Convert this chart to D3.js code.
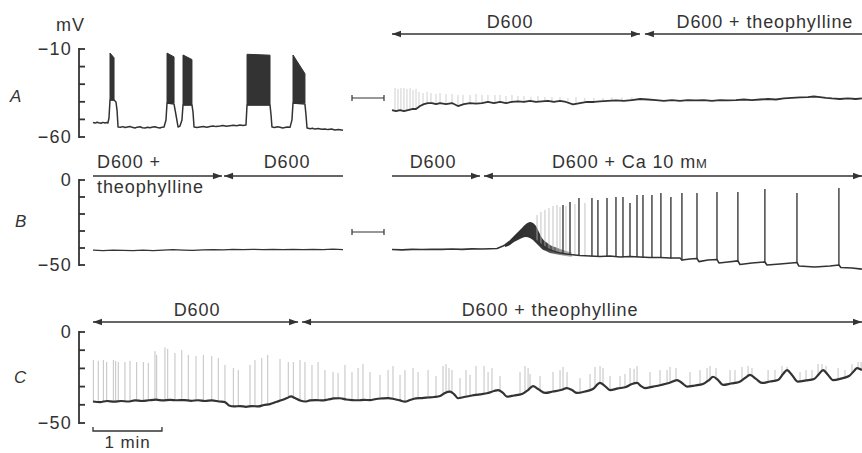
<!DOCTYPE html>
<html><head><meta charset="utf-8">
<script src="https://cdn.jsdelivr.net/npm/d3@7"></script>
<style>
body{margin:0;background:#fff}
text{font-family:"Liberation Sans",Arial,sans-serif;fill:#333}
</style>
</head><body>
<svg id="c" width="862" height="453"></svg>
<script>
// ---------------- DATA (time in s, potential in mV) ----------------
const aTicks = [-60,-50,-40,-30,-20,-10];
const bTicks = [-50,-40,-30,-20,-10,0];
const cTicks = [-50,-40,-30,-20,-10,0];
const aTickLabels = [[-10,"\u221210"],[-60,"\u221260"]];
const bTickLabels = [[0,"0"],[-50,"\u221250"]];
const cTickLabels = [[0,"0"],[-50,"\u221250"]];

// Panel A, left record
const aLeftTrace = [[0,-51.8],[2,-52.1],[3.5,-51.6],[5,-51.9],[7,-52.2],[8.7,-51.7],[10.4,-52.0],[12,-51.8],[13,-52.0],[13.9,-49.2],[14.8,-39.0],[18.3,-39.0],[20,-40.1],[20.9,-44.7],[21.8,-54.3],[24,-54.5],[26,-54.1],[27.8,-54.6],[30,-54.3],[32.2,-54.0],[34,-54.5],[36.5,-54.9],[38.5,-54.4],[40.9,-54.2],[43,-54.7],[45.2,-54.9],[47.5,-54.5],[49.6,-54.7],[52,-54.3],[53.9,-54.2],[56,-54.6],[58.3,-54.9],[60,-54.4],[61.8,-54.3],[63.5,-50.3],[64.4,-40.7],[70.5,-41.3],[72.2,-47.5],[74,-54.3],[75.7,-53.8],[77.4,-50.3],[78.3,-41.8],[86.1,-41.8],[87,-45.8],[87.9,-54.3],[90.5,-54.6],[93.1,-54.3],[96,-54.0],[99,-54.4],[101.8,-54.0],[104.5,-53.7],[107,-54.1],[110.5,-53.8],[113,-53.5],[116,-53.9],[119.2,-53.6],[122,-53.3],[125,-53.6],[127.9,-53.2],[130.5,-53.4],[133.1,-53.2],[134,-41.8],[154,-41.8],[154.9,-47.5],[155.7,-54.3],[158,-54.6],[160.5,-54.2],[162.7,-54.5],[165,-54.9],[167,-54.6],[169,-54.3],[171.4,-54.5],[173.1,-50.3],[174,-40.7],[184.4,-41.3],[185.3,-47.5],[186.2,-54.9],[189,-55.3],[191,-55.0],[193.1,-55.5],[196,-55.2],[199,-55.6],[201.8,-55.4],[204.5,-55.8],[207.5,-55.5],[210.5,-56.0],[213.5,-55.7],[217.5,-56.1]];
const burstStart    = [14.8, 64.4, 78.3, 134, 174];
const burstEnd      = [18.3, 70.5, 86.1, 154, 184.4];
const burstFloor    = [-39.0, -40.7, -41.8, -41.8, -40.7];
const burstTopStart = [-12.3, -12.3, -13.4, -13.0, -13.4];
const burstTopEnd   = [-15.0, -14.5, -16.0, -13.5, -24.0];

// Panel A, right record
const aRightTrace = [[0,-44.7],[3.5,-45.3],[7,-44.7],[10.4,-45.3],[13.9,-44.7],[17.4,-44.1],[20.9,-44.1],[24.4,-42.4],[27.8,-41.3],[31.3,-40.7],[34.8,-40.7],[38.3,-41.3],[41.8,-40.7],[47,-41.3],[52.2,-40.7],[57.4,-42.4],[62.6,-41.3],[67.9,-40.7],[73.1,-41.0],[78.3,-40.7],[83.5,-40.1],[88.7,-40.7],[94,-40.1],[99.2,-40.7],[104.4,-40.1],[109.6,-39.8],[114.8,-40.1],[120,-39.5],[125.3,-40.1],[130.5,-39.8],[135.7,-39.5],[140.9,-40.1],[146.2,-39.5],[151.4,-40.1],[157.5,-41.5],[163.6,-40.7],[169.7,-40.1],[175.7,-40.1],[181,-39.8],[187.9,-39.5],[194.9,-39.2],[201.8,-39.5],[208.8,-39.0],[215.8,-38.4],[222.7,-38.7],[229.7,-39.0],[236.6,-39.5],[243.6,-39.0],[250.6,-39.5],[257.5,-39.0],[264.5,-39.2],[271.4,-39.0],[278.4,-39.5],[285.4,-39.0],[292.3,-39.2],[299.3,-39.0],[306.2,-38.7],[313.2,-39.0],[320.2,-38.7],[327.1,-38.4],[334.1,-38.7],[341,-38.1],[348,-37.8],[355,-37.5],[361.9,-37.3],[367.1,-37.0],[372.4,-37.3],[377.6,-37.8],[382.8,-38.1],[389.8,-38.4],[396.7,-38.1],[403.7,-38.4],[408.9,-38.1]];
const aRightSpikes = [[2.6,-32.2],[5.2,-32.7],[7.8,-32.2],[10.4,-32.2],[13,-32.7],[15.7,-32.2],[18.3,-33.3],[20.9,-32.7],[23.5,-34.4],[27,-35.0],[30.5,-34.4],[33.9,-35.0],[38.3,-35.6],[41.8,-35.0],[47,-35.6],[52.2,-35.6],[57.4,-36.1],[61.8,-36.1],[67.9,-36.1],[73.1,-35.6],[78.3,-36.1],[83.5,-36.1],[89.6,-36.1],[94,-36.1],[99.2,-36.7],[104.4,-36.1],[109.6,-36.7],[114.8,-36.7],[120.9,-37.3],[127,-36.7],[133.1,-37.3],[139.2,-37.3],[146.2,-37.3],[153.1,-37.8],[160.1,-37.3],[167.9,-37.8],[175.7,-37.8],[183.6,-37.8],[191.4,-37.5],[200.1,-37.5],[208.8,-37.3]];

// Panel B, left record
const bLeftTrace = [[0,-41.2],[8.7,-41.5],[17.4,-41.2],[26.1,-41.4],[34.8,-41.6],[43.5,-41.3],[52.2,-41.5],[60.9,-41.2],[69.6,-40.9],[78.3,-41.2],[87,-41.4],[95.7,-41.1],[104.4,-40.9],[113.1,-41.1],[121.8,-40.8],[130.5,-41.0],[139.2,-40.8],[147.9,-40.9],[156.6,-40.8],[165.3,-41.0],[174,-40.8],[182.7,-40.9],[191.4,-40.8],[200.1,-40.9],[208.8,-40.7],[217.5,-40.9]];

// Panel B, right record
const bRightTrace = [[0,-40.9],[8.7,-41.1],[17.4,-40.8],[26.1,-40.9],[34.8,-40.7],[43.5,-40.8],[52.2,-40.6],[60.9,-40.8],[69.6,-40.5],[78.3,-40.6],[85.3,-40.4],[91.4,-40.3],[96.6,-38.8],[100.9,-37.4],[104.4,-35.9],[109.6,-34.1],[114.0,-32.9],[118.3,-32.9],[122.7,-34.1],[127,-36.5],[131.4,-38.8],[135.7,-40.6],[140.1,-41.8],[144.4,-42.6],[148.8,-43.2],[154.9,-43.8],[163.6,-44.4],[172.3,-44.7],[181,-45.0],[189.7,-44.7],[198.4,-45.3],[207.1,-45.0],[215.8,-45.3],[224.5,-45.6],[233.2,-45.6],[241.9,-45.9],[250.6,-45.9],[252.3,-47.1],[259.3,-46.5],[265.4,-46.2],[267.1,-48.0],[274.9,-47.1],[282.8,-46.8],[284.5,-48.8],[292.3,-48.2],[301,-47.6],[302.8,-49.7],[313.2,-48.8],[324.5,-48.2],[326.3,-50.0],[337.6,-49.4],[352.4,-48.5],[354.1,-50.6],[368,-51.2],[381.1,-50.6],[388.9,-50.0],[390.6,-51.5],[400.2,-51.8],[408.9,-52.4]];
// dense oscillation envelope: [t, lower mV, upper mV]
const bOscillation = [[98.3,-39.4,-37.6],[102.7,-38.2,-35.3],[106.1,-36.5,-32.9],[109.6,-35.3,-30.6],[113.1,-34.1,-28.2],[116.6,-33.5,-25.9],[120.1,-34.1,-24.7],[122.7,-35.3,-25.3],[125.3,-37.1,-27.1],[127.9,-38.8,-30.6],[130.5,-40.6,-34.1],[134,-41.8,-36.5],[137.5,-42.9,-38.2],[141.8,-43.5,-39.4],[146.2,-44.1,-40.6],[151.4,-44.7,-41.8],[156.6,-45.3,-42.6]];
const bRightFaintSpikes = [[126.2,-20.6],[129.6,-18.8],[133.1,-17.6],[136.6,-16.5],[140.1,-15.3],[143.6,-14.7],[146.2,-15.9],[151.4,-15.3],[159.2,-14.1],[167.9,-13.5]];
const bRightSpikes = [[148.8,-14.7],[154.9,-12.9],[162.7,-10.6],[174,-10.6],[179.2,-11.8],[187.1,-10.6],[194.9,-10.0],[201,-10.0],[207.1,-13.5],[213.2,-8.8],[218.4,-8.8],[226.2,-8.8],[234,-7.6],[242.7,-10.0],[252.3,-7.6],[265.4,-7.6],[282.8,-7.1],[301,-7.1],[324.5,-5.3],[352.4,-7.6],[388.9,-4.7]];

// Panel C
const cTrace = [[0,-38.2],[6.1,-38.5],[12.2,-37.9],[18.3,-38.3],[24.4,-37.9],[30.5,-38.2],[36.5,-37.6],[42.6,-37.9],[48.7,-37.5],[54.8,-37.2],[60.9,-37.6],[67,-37.3],[73.1,-37.5],[79.2,-37.4],[85.3,-37.8],[91.4,-37.5],[97.4,-37.9],[103.5,-37.6],[109.6,-38.2],[114.8,-38.5],[118.3,-40.4],[122.7,-40.9],[127.9,-40.7],[133.1,-41.1],[138.3,-40.7],[143.6,-40.9],[148.8,-40.1],[154,-39.6],[159.2,-38.5],[164.4,-37.4],[168.8,-36.3],[172.3,-35.4],[175.7,-36.3],[180.1,-37.6],[184.4,-38.2],[188.8,-37.6],[194,-37.4],[199.2,-37.6],[204.5,-37.1],[209.7,-36.5],[214.9,-36.4],[220.1,-37.1],[225.3,-37.4],[230.6,-37.5],[235.8,-37.3],[241,-37.4],[246.2,-36.8],[251.4,-36.5],[256.7,-36.3],[261.9,-36.8],[267.1,-37.6],[271.4,-38.3],[275.8,-37.4],[281,-36.5],[286.2,-36.3],[291.5,-36.0],[296.7,-35.7],[301.9,-35.2],[306.2,-33.5],[310.6,-32.8],[314,-34.1],[317.6,-36.4],[322.8,-35.7],[329.7,-34.9],[336.7,-34.3],[343.7,-33.5],[348.9,-32.4],[352.4,-31.9],[356.7,-33.5],[360.2,-35.5],[366.3,-34.9],[373.2,-34.1],[378.5,-31.9],[382.8,-29.7],[387.2,-31.3],[393.3,-33.5],[400.2,-32.7],[407.1,-31.9],[412.3,-30.8],[416.7,-31.9],[421,-33.5],[428,-32.7],[434.9,-31.3],[441,-28.0],[445.4,-29.7],[449.8,-31.9],[456.7,-31.0],[463.7,-30.2],[468.9,-28.6],[473.3,-28.0],[476.8,-29.7],[480.2,-30.8],[487.2,-30.0],[494.2,-29.1],[501.1,-28.0],[508.1,-26.4],[512.4,-28.0],[516.8,-30.0],[523.7,-29.4],[530.7,-28.6],[535.9,-26.4],[539.4,-24.6],[543.8,-26.4],[548.1,-29.1],[555.1,-28.3],[562.1,-27.5],[567.2,-25.3],[571.6,-23.6],[576.8,-25.8],[582,-28.0],[589,-27.2],[595.9,-26.4],[600.3,-23.1],[603.8,-20.9],[608.1,-23.6],[613.3,-27.3],[620.3,-26.6],[627.3,-25.8],[631.6,-23.1],[635.1,-20.9],[639.5,-23.6],[643.8,-26.4],[650.8,-25.6],[657.7,-24.2],[662.1,-21.4],[664.7,-19.8],[669,-20.9]];
const cSpikes = [[0.3,-15.4],[4.6,-15.9],[9,-15.4],[11.9,-16.5],[17.7,-15.4],[19.7,-15.9],[22,-16.5],[27.8,-16.5],[32.2,-15.9],[38,-16.5],[43.8,-16.5],[48.1,-17.0],[53.9,-10.5],[55.4,-12.6],[62.6,-8.5],[65,-9.3],[71.3,-11.5],[77.2,-9.9],[82.9,-12.6],[89.6,-13.2],[96,-12.6],[103.3,-13.2],[109,-14.3],[114.8,-18.1],[122.1,-19.8],[126.4,-20.9],[136.6,-18.1],[140.9,-15.4],[146.8,-14.3],[152,-12.6],[162.7,-14.8],[169.9,-16.5],[174.3,-16.5],[180.1,-15.4],[184.4,-16.5],[190.5,-18.1],[195.8,-16.5],[201.8,-20.9],[208.8,-22.0],[213.2,-22.5],[219.2,-18.1],[225.3,-22.0],[230.6,-19.8],[234.9,-17.6],[241,-22.0],[249.7,-23.6],[256.7,-20.9],[261,-18.7],[267.1,-23.6],[271.4,-20.9],[278.4,-19.8],[282.8,-22.0],[291.5,-20.9],[298.4,-24.2],[304.5,-18.7],[307.1,-17.6],[309.7,-19.8],[312.3,-20.9],[319.3,-25.3],[324.5,-20.9],[328,-23.6],[333.2,-18.7],[340.2,-18.7],[343.7,-22.0],[347.1,-19.8],[354.1,-24.2],[371.5,-22.0],[375.8,-18.7],[378.5,-19.8],[380.2,-23.1],[388.9,-24.2],[400.2,-22.0],[406.3,-20.9],[408.9,-19.2],[412.4,-22.0],[423.7,-25.3],[432.4,-23.1],[436.7,-19.2],[441.1,-18.7],[443.7,-19.8],[449.8,-24.2],[458.5,-24.2],[462.8,-23.1],[467.2,-19.8],[470.7,-20.3],[473.3,-18.7],[484.6,-22.0],[493.3,-20.9],[499.4,-20.9],[502,-19.2],[507.2,-19.8],[519.4,-22.0],[528.1,-20.9],[534.2,-19.8],[536.8,-18.7],[542,-19.8],[554.2,-20.9],[558.5,-20.9],[564.6,-19.2],[569.9,-18.7],[573.3,-19.8],[587.3,-20.9],[593.3,-20.9],[599.4,-18.7],[603.8,-19.2],[615.1,-22.0],[620.3,-20.9],[625.5,-20.9],[630.8,-17.6],[634.2,-17.6],[637.7,-18.7],[648.2,-19.8],[654.2,-20.9],[660.3,-17.6],[665.6,-16.5],[668.2,-16.5]];

// Drug-application bars: [start s, end s]
const aArrows = [[0,215.8],[220.1,409]];
const aArrowLabels = [["D600",102.7],["D600 + theophylline",324.5]];
const bLeftArrows = [[0,112.2],[114,217.5]];
const bRightArrows = [[0,76.6],[80.0,409]];
const bRightLabels = [["D600",35.7],["D600 + Ca 10 m",207]];
const cArrows = [[0,178.4],[181.9,669]];
const cArrowLabels = [["D600",90.5],["D600 + theophylline",397.6]];
const timeBar = [0,60]; // 1 min

// ---------------- DRAWING ----------------
const svg = d3.select("#c");
svg.append("rect").attr("width",862).attr("height",453).attr("fill","#fff");
const INK = "#333";

const xL = d3.scaleLinear().domain([0,217.5]).range([93,343]);
const xR = d3.scaleLinear().domain([0,409]).range([392,862]);
const xC = d3.scaleLinear().domain([0,669]).range([93,862]);
const yA = d3.scaleLinear().domain([-60,-10]).range([137,49]);
const yB = d3.scaleLinear().domain([-50,0]).range([265,180]);
const yC = d3.scaleLinear().domain([-50,0]).range([423,332]);

const defs = svg.append("defs");
const grad = defs.append("linearGradient").attr("id","oscFade").attr("gradientUnits","userSpaceOnUse")
  .attr("x1",xR(98)).attr("x2",xR(157)).attr("y1",0).attr("y2",0);
grad.append("stop").attr("offset","0").attr("stop-color","#2a2a2a");
grad.append("stop").attr("offset","0.6").attr("stop-color","#3a3a3a");
grad.append("stop").attr("offset","1").attr("stop-color","#c4c4c4");

function baseAt(tr,t){
  const i = d3.bisector(d=>d[0]).right(tr,t);
  if(i<=0) return tr[0][1];
  if(i>=tr.length) return tr[tr.length-1][1];
  const a=tr[i-1], b=tr[i];
  return a[1]+(b[1]-a[1])*(t-a[0])/(b[0]-a[0]);
}
function trace(data,x,y,w,curve){
  const ln = d3.line().x(d=>x(d[0])).y(d=>y(d[1]));
  if(curve) ln.curve(curve);
  svg.append("path").datum(data).attr("fill","none").attr("stroke",INK)
    .attr("stroke-width",w||1.7).attr("stroke-linejoin","round").attr("d",ln);
}
function spikes(list,tr,x,y,color,w){
  svg.append("g").selectAll("line").data(list).join("line")
    .attr("x1",d=>x(d[0])).attr("x2",d=>x(d[0]))
    .attr("y1",d=>y(baseAt(tr,d[0]))+0.5).attr("y2",d=>y(d[1]))
    .attr("stroke",color).attr("stroke-width",w);
}
function axis(y,ticks,labels){
  const g = svg.append("g");
  const ext = d3.extent(ticks);
  g.append("line").attr("x1",79).attr("x2",79).attr("y1",y(ext[0])+0.9).attr("y2",y(ext[1])-0.9)
    .attr("stroke",INK).attr("stroke-width",1.8);
  g.selectAll("line.tk").data(ticks).join("line").attr("class","tk")
    .attr("x1",79).attr("x2",85).attr("y1",d=>y(d)).attr("y2",d=>y(d))
    .attr("stroke",INK).attr("stroke-width",1.8);
  labels.forEach(([v,s])=>{
    svg.append("text").attr("x",72).attr("y",y(v)).attr("dy","0.36em")
      .attr("text-anchor","end").attr("font-size",18).attr("letter-spacing",1.2).text(s);
  });
}
function arrow(x0,x1,y,hl,hr){
  svg.append("line").attr("x1",x0).attr("x2",x1).attr("y1",y).attr("y2",y)
    .attr("stroke",INK).attr("stroke-width",1.4);
  if(hl) svg.append("path").attr("d",`M${x0},${y}L${x0+9},${y-3.2}L${x0+9},${y+3.2}Z`).attr("fill",INK);
  if(hr) svg.append("path").attr("d",`M${x1},${y}L${x1-9},${y-3.2}L${x1-9},${y+3.2}Z`).attr("fill",INK);
}
function label(s,x,y,anchor,size){
  return svg.append("text").attr("x",x).attr("y",y).attr("text-anchor",anchor||"middle")
    .attr("font-size",size||18).attr("letter-spacing",0.9).text(s);
}
function gapBar(x0,x1,y){
  svg.append("path").attr("d",`M${x0},${y-3}V${y+3}M${x0},${y}H${x1}M${x1},${y-3}V${y+3}`)
    .attr("fill","none").attr("stroke",INK).attr("stroke-width",1.2);
}

// Axes and panel letters
axis(yA,aTicks,aTickLabels);
axis(yB,bTicks,bTickLabels);
axis(yC,cTicks,cTickLabels);
svg.append("text").attr("x",85).attr("y",31).attr("text-anchor","end").attr("font-size",18).attr("letter-spacing",1).text("mV");
[["A",10,102],["B",15,227],["C",14,383]].forEach(([s,x,y])=>{
  svg.append("text").attr("x",x).attr("y",y).attr("font-size",17).attr("font-style","italic").text(s);
});

// ---- Panel A ----
burstStart.forEach((s,i)=>{
  const pts = [[s,burstFloor[i]],[s,burstTopStart[i]],[burstEnd[i],burstTopEnd[i]],[burstEnd[i],burstFloor[i]]];
  svg.append("path").attr("d",d3.line().x(d=>xL(d[0])).y(d=>yA(d[1]))(pts)+"Z")
    .attr("fill","#333").attr("stroke","#333").attr("stroke-width",1);
});
trace(aLeftTrace,xL,yA,1.5);
spikes(aRightSpikes,aRightTrace,xR,yA,"#bbb",0.7);
trace(aRightTrace,xR,yA,1.8);
gapBar(352,384,98);
arrow(xR(aArrows[0][0]),xR(aArrows[0][1]),34,true,true);
arrow(xR(aArrows[1][0]),xR(aArrows[1][1]),34,true,false);
aArrowLabels.forEach(([s,t])=>label(s,xR(t),28));

// ---- Panel B ----
trace(bLeftTrace,xL,yB,1.3);
arrow(xL(bLeftArrows[0][0]),xL(bLeftArrows[0][1]),176,false,true);
arrow(xL(bLeftArrows[1][0]),xL(bLeftArrows[1][1]),176,true,false);
label("D600 +",xL(3.5),168,"start");
label("theophylline",xL(3.5),193,"start");
label("D600",xL(168.8),168);
gapBar(352,384,232);

svg.append("path").datum(bOscillation)
  .attr("d",d3.area().x(d=>xR(d[0])).y0(d=>yB(d[1])).y1(d=>yB(d[2])).curve(d3.curveMonotoneX))
  .attr("fill","url(#oscFade)");
spikes(bRightFaintSpikes,bRightTrace,xR,yB,"#b5b5b5",0.8);
spikes(bRightSpikes,bRightTrace,xR,yB,"#3a3a3a",1.4);
trace(bRightTrace,xR,yB,1.6);
arrow(xR(bRightArrows[0][0]),xR(bRightArrows[0][1]),176,false,true);
arrow(xR(bRightArrows[1][0]),xR(bRightArrows[1][1]),176,true,true);
label(bRightLabels[0][0],xR(bRightLabels[0][1]),168);
const caT = label(bRightLabels[1][0],xR(bRightLabels[1][1]),168);
caT.append("tspan").attr("font-size",13).text("M");

// ---- Panel C ----
spikes(cSpikes,cTrace,xC,yC,"#a8a8a8",0.7);
trace(cTrace,xC,yC,2.2,d3.curveMonotoneX);
cArrows.forEach(a=>arrow(xC(a[0]),xC(a[1]),322,true,true));
cArrowLabels.forEach(([s,t])=>label(s,xC(t),316));
// 1 min bar
const tb0 = xC(timeBar[0]), tb1 = xC(timeBar[1]);
svg.append("path").attr("d",`M${tb0},427V431H${tb1}V427`).attr("fill","none").attr("stroke",INK).attr("stroke-width",1.3);
label("1 min",(tb0+tb1)/2,448,"middle",17);
</script>
</body></html>
